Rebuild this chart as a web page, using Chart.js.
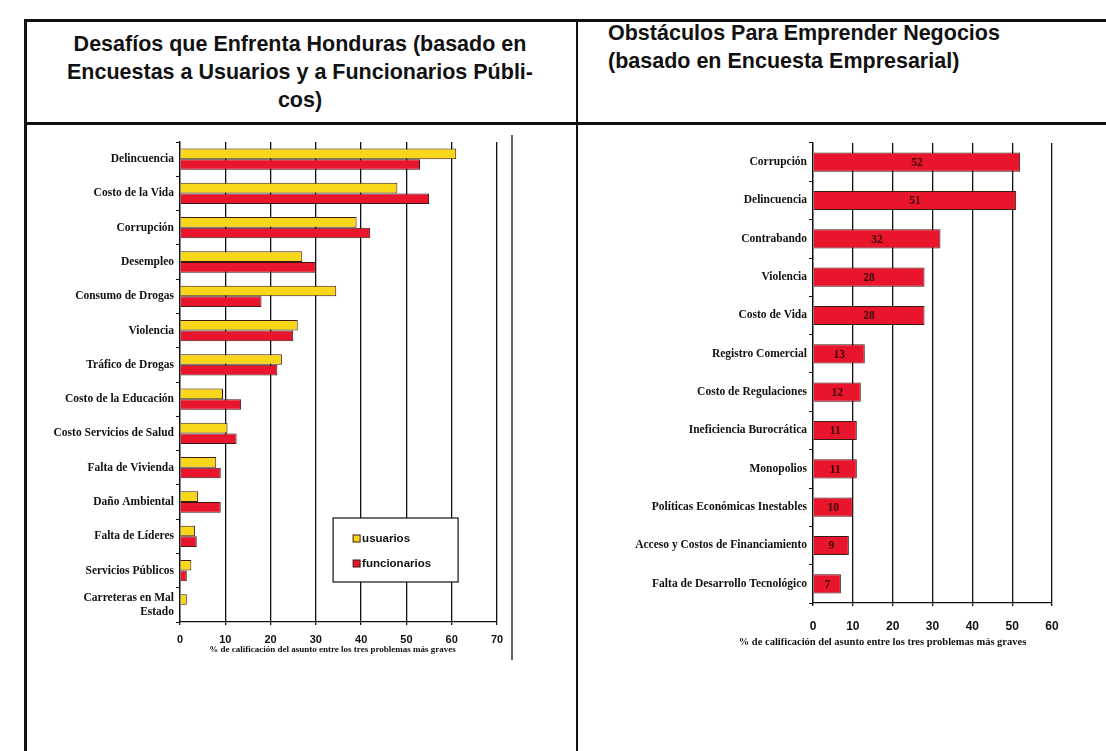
<!DOCTYPE html>
<html>
<head>
<meta charset="utf-8">
<script src="https://cdn.jsdelivr.net/npm/chart.js@4.4.1/dist/chart.umd.min.js"></script>
<style>
  body { margin: 0; background: #fff; width: 1106px; height: 751px; position: relative; overflow: hidden; }
  .line { position: absolute; background: #111; }
  .head { position: absolute; font-family: 'Liberation Sans', Arial, sans-serif; font-weight: bold; font-size: 21.5px; line-height: 28px; color: #111; }
  .box { position: absolute; }
</style>
</head>
<body>
<div class="line" style="left:25px; top:19px; width:1081px; height:3px;"></div>
<div class="line" style="left:25px; top:122px; width:1081px; height:3px;"></div>
<div class="line" style="left:24px; top:19px; width:3px; height:732px;"></div>
<div class="line" style="left:576px; top:19px; width:2px; height:732px;"></div>

<div class="head" style="left:30px; top:30px; width:540px; text-align:center;">Desafíos que Enfrenta Honduras (basado en<br>Encuestas a Usuarios y a Funcionarios Públi-<br>cos)</div>
<div class="head" style="left:608px; top:19px; width:490px;">Obstáculos Para Emprender Negocios<br>(basado en Encuesta Empresarial)</div>

<div class="box" style="left:28px; top:126px; width:548px; height:560px;"><canvas id="left"></canvas></div>
<div class="box" style="left:581px; top:126px; width:525px; height:560px;"><canvas id="right"></canvas></div>

<script>
//--- Data.
const leftLabels = [
  'Delincuencia', 'Costo de la Vida', 'Corrupción', 'Desempleo', 'Consumo de Drogas',
  'Violencia', 'Tráfico de Drogas', 'Costo de la Educación', 'Costo Servicios de Salud',
  'Falta de Vivienda', 'Daño Ambiental', 'Falta de Líderes', 'Servicios Públicos',
  ['Carreteras en Mal', 'Estado']
];
const usuarios = [61, 48, 39, 27, 34.5, 26, 22.5, 9.5, 10.5, 8, 4, 3.3, 2.5, 1.5];
const funcionarios = [53, 55, 42, 30, 18, 25, 21.5, 13.5, 12.5, 9, 9, 3.7, 1.5, 0];
const leftTicks = [0, 10, 20, 30, 40, 50, 60, 70];

const rightLabels = [
  'Corrupción', 'Delincuencia', 'Contrabando', 'Violencia', 'Costo de Vida',
  'Registro Comercial', 'Costo de Regulaciones', 'Ineficiencia Burocrática', 'Monopolios',
  'Políticas Económicas Inestables', 'Acceso y Costos de Financiamiento', 'Falta de Desarrollo Tecnológico'
];
const empresas = [52, 51, 32, 28, 28, 13, 12, 11, 11, 10, 9, 7];
const rightTicks = [0, 10, 20, 30, 40, 50, 60];

const axisTitle = '% de calificación del asunto entre los tres problemas más graves';
const YELLOW = '#F8D61A';
const RED = '#E8152C';
const EDGE = '#3b1a12';

//--- Axis title drawn under the tick labels (shifted like in the print).
const axisCaption = {
  id: 'axisCaption',
  afterDraw(chart, args, opts) {
    const { ctx, chartArea } = chart;
    ctx.save();
    ctx.font = `bold ${opts.size}px "Liberation Serif", serif`;
    ctx.fillStyle = '#111';
    ctx.textAlign = 'center';
    ctx.textBaseline = 'middle';
    ctx.fillText(axisTitle, (chartArea.left + chartArea.right) / 2 + opts.dx, chartArea.bottom + opts.dy);
    ctx.restore();
  }
};

//--- Small in-plot legend and frame line for the left chart.
const leftExtras = {
  id: 'leftExtras',
  afterDraw(chart) {
    const { ctx, chartArea } = chart;
    ctx.save();
    ctx.strokeStyle = '#111';
    ctx.lineWidth = 1.3;
    ctx.beginPath();
    ctx.moveTo(chartArea.right + 15, chartArea.top - 7);
    ctx.lineTo(chartArea.right + 15, chartArea.bottom + 38);
    ctx.stroke();

    const w = chartArea.right - chartArea.left;
    const bx = chartArea.left + w * 0.483;
    const by = chartArea.bottom - 104;
    ctx.fillStyle = '#fff';
    ctx.fillRect(bx, by, 125, 64);
    ctx.lineWidth = 1.2;
    ctx.strokeRect(bx, by, 125, 64);
    ctx.font = 'bold 11.5px "Liberation Sans", Arial';
    ctx.textBaseline = 'middle';
    [['usuarios', YELLOW, 21], ['funcionarios', RED, 46]].forEach(([txt, col, dy]) => {
      ctx.fillStyle = col;
      ctx.fillRect(bx + 20, by + dy - 4, 7, 7);
      ctx.strokeStyle = EDGE;
      ctx.lineWidth = 1;
      ctx.strokeRect(bx + 20, by + dy - 4, 7, 7);
      ctx.fillStyle = '#111';
      ctx.fillText(txt, bx + 29, dy + by);
    });
    ctx.restore();
  }
};

//--- Value labels inside bars for the right chart.
const barValues = {
  id: 'barValues',
  afterDatasetsDraw(chart) {
    const { ctx } = chart;
    ctx.save();
    ctx.font = 'bold 11.5px "Liberation Serif", serif';
    ctx.fillStyle = '#3a0808';
    ctx.textAlign = 'center';
    ctx.textBaseline = 'middle';
    chart.getDatasetMeta(0).data.forEach((bar, i) => {
      ctx.fillText(chart.data.datasets[0].data[i], (bar.x + bar.base) / 2, bar.y + 1);
    });
    ctx.restore();
  }
};

function xScale(ticks, max, tickSize, pad) {
  return {
    type: 'linear',
    min: 0,
    max,
    afterBuildTicks: s => { s.ticks = ticks.map(v => ({ value: v })); },
    afterFit: s => { s.height = 40; },
    grid: { color: '#111', lineWidth: 1.3, tickLength: 3, tickColor: '#111' },
    border: { display: true, color: '#111', width: 1.3 },
    ticks: {
      color: '#111', padding: pad,
      font: { family: '"Liberation Sans", Arial', weight: 'bold', size: tickSize }
    }
  };
}

function yScale(width) {
  return {
    type: 'category',
    afterFit: s => { s.width = width; },
    grid: { drawOnChartArea: false, offset: true, tickLength: 4, color: '#111', tickColor: '#111' },
    border: { display: true, color: '#111', width: 1.3 },
    ticks: {
      color: '#111', padding: 2,
      font: { family: '"Liberation Serif", "Times New Roman", serif', weight: 'bold', size: 11.5 }
    }
  };
}

new Chart(document.getElementById('left'), {
  type: 'bar',
  data: {
    labels: leftLabels,
    datasets: [
      { label: 'usuarios', data: usuarios, backgroundColor: YELLOW, borderColor: EDGE, borderWidth: 1 },
      { label: 'funcionarios', data: funcionarios, backgroundColor: RED, borderColor: EDGE, borderWidth: 1 }
    ]
  },
  options: {
    indexAxis: 'y',
    responsive: true,
    maintainAspectRatio: false,
    animation: false,
    categoryPercentage: 0.62,
    barPercentage: 1,
    layout: { padding: { top: 16, right: 79, bottom: 24, left: 0 } },
    scales: { x: xScale(leftTicks, 70, 11, 8), y: yScale(152) },
    plugins: {
      legend: { display: false }, tooltip: { enabled: false },
      axisCaption: { size: 9, dx: -6, dy: 28 }
    }
  },
  plugins: [leftExtras, axisCaption]
});

new Chart(document.getElementById('right'), {
  type: 'bar',
  data: {
    labels: rightLabels,
    datasets: [
      { label: 'empresas', data: empresas, backgroundColor: RED, borderColor: EDGE, borderWidth: 1 }
    ]
  },
  options: {
    indexAxis: 'y',
    responsive: true,
    maintainAspectRatio: false,
    animation: false,
    categoryPercentage: 0.5,
    barPercentage: 1,
    layout: { padding: { top: 17, right: 54, bottom: 43, left: 0 } },
    scales: { x: xScale(rightTicks, 60, 12, 13), y: yScale(232) },
    plugins: {
      legend: { display: false }, tooltip: { enabled: false },
      axisCaption: { size: 10.5, dx: -50, dy: 39 }
    }
  },
  plugins: [barValues, axisCaption]
});
</script>
</body>
</html>
